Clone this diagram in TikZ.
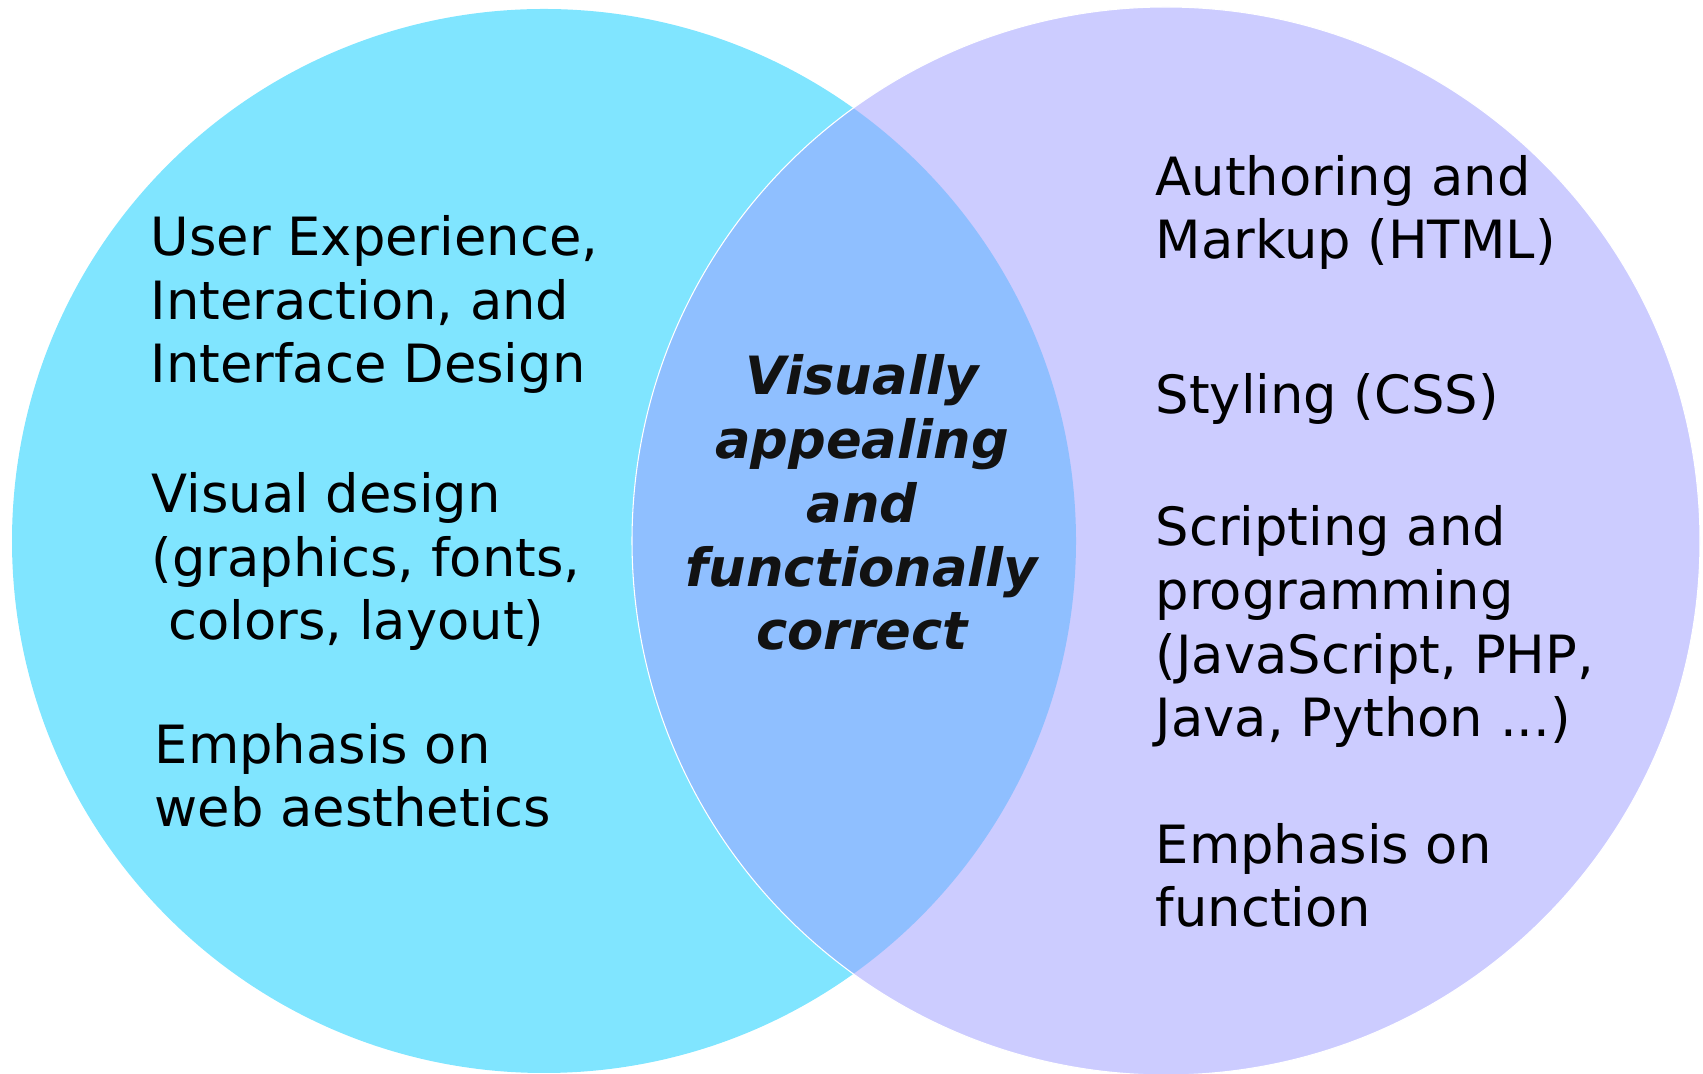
\documentclass[tikz,border=0pt]{standalone}
\usepackage{fontspec}
\setmainfont{DejaVu Sans}
\usepackage{tikz}
\definecolor{designcyan}{HTML}{80E5FF}
\definecolor{codelilac}{HTML}{CCCCFF}
\definecolor{bothblue}{HTML}{8FBFFF}
\tikzset{topic/.style={anchor=base west, align=left, inner sep=0pt, font=\fontsize{15}{18.2}\selectfont}}
\tikzset{core/.style={anchor=base, align=center, inner sep=0pt, text=black!93, font=\fontsize{15}{18.2}\selectfont\bfseries\itshape}}
\tikzset{seam/.style={draw=white, line width=0.3pt}}

\begin{document}
\begin{tikzpicture}
            \useasboundingbox (0, 0) rectangle (17.03, 10.74);
            \fill[designcyan] (5.44, 5.33) circle (5.32);
            \fill[codelilac] (11.66, 5.33) circle (5.34);
            \begin{scope}
                \clip (5.44, 5.33) circle (5.32);
                \fill[bothblue] (11.66, 5.33) circle (5.34);
            \end{scope}
            \draw[seam] (11.66, 5.33) circle (5.34);
            % nodes sit on the baseline of their last line
            \node[topic] (ux) at (1.50, 6.91) {User Experience,\\Interaction, and\\Interface Design};
            \node[topic] (visual) at (1.51, 4.34) {Visual design\\(graphics, fonts,\\\ colors, layout)};
            \node[topic] (aesthetics) at (1.54, 2.47) {Emphasis on\\web aesthetics};
            \node[core] (both) at (8.62, 4.24) {Visually\\appealing\\and\\functionally\\correct};
            \node[topic] (markup) at (11.55, 8.15) {Authoring and\\Markup (HTML)};
            \node[topic] (styling) at (11.55, 6.60) {Styling (CSS)};
            \node[topic] (scripting) at (11.55, 3.37) {Scripting and\\programming\\(JavaScript, PHP,\\Java, Python ...)};
            \node[topic] (function) at (11.55, 1.47) {Emphasis on\\function};
        \end{tikzpicture}
\end{document}
